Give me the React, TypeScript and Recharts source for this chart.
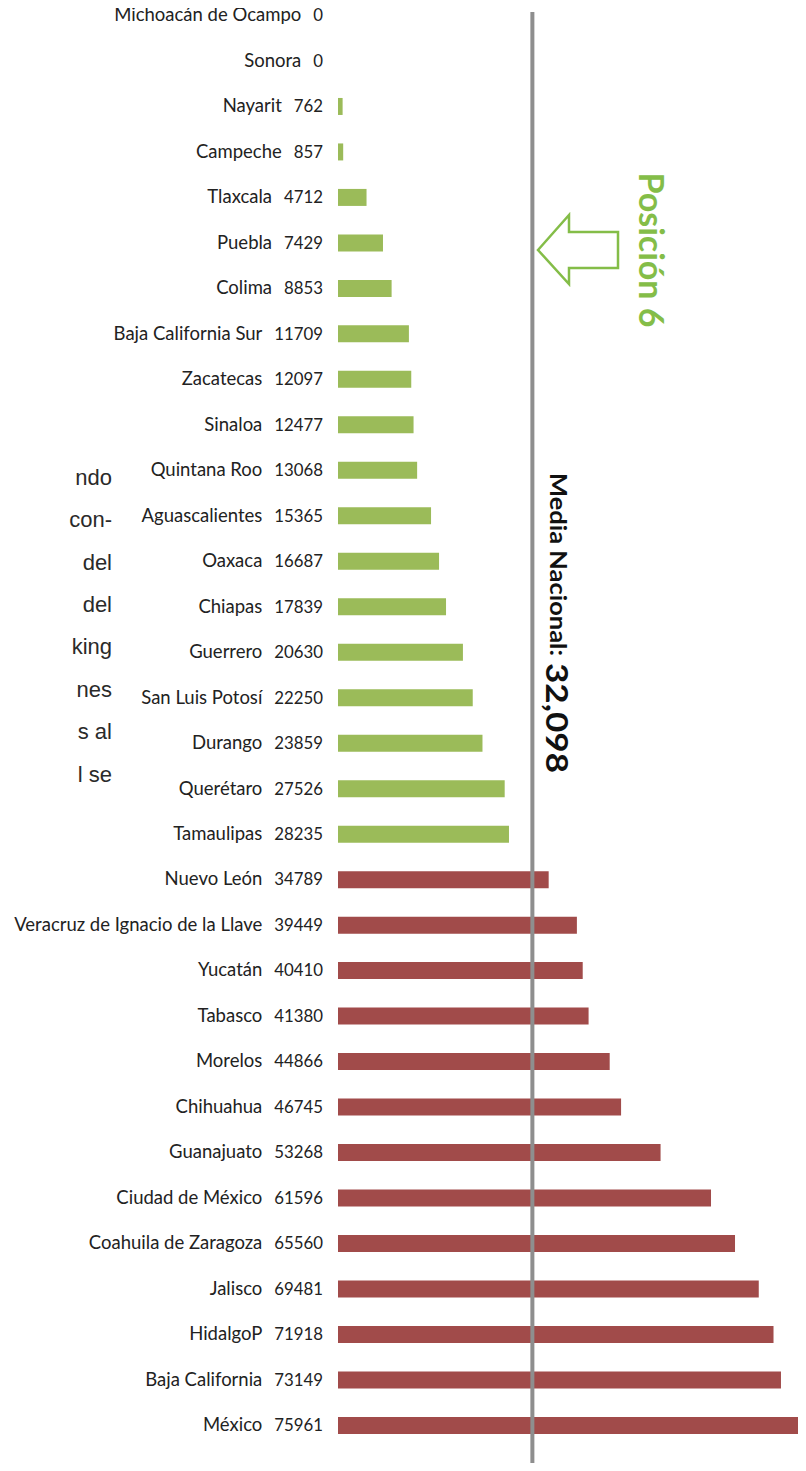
import React from "react";
import { BarChart, Bar, XAxis, YAxis, Cell, ReferenceLine } from "recharts";

const STATES = [
  "Michoacán de Ocampo", "Sonora", "Nayarit", "Campeche", "Tlaxcala", "Puebla", "Colima",
  "Baja California Sur", "Zacatecas", "Sinaloa", "Quintana Roo", "Aguascalientes", "Oaxaca",
  "Chiapas", "Guerrero", "San Luis Potosí", "Durango", "Querétaro", "Tamaulipas", "Nuevo León",
  "Veracruz de Ignacio de la Llave", "Yucatán", "Tabasco", "Morelos", "Chihuahua", "Guanajuato",
  "Ciudad de México", "Coahuila de Zaragoza", "Jalisco", "HidalgoP", "Baja California", "México",
];
const VALUES = [
  0, 0, 762, 857, 4712, 7429, 8853, 11709, 12097, 12477, 13068, 15365, 16687, 17839, 20630,
  22250, 23859, 27526, 28235, 34789, 39449, 40410, 41380, 44866, 46745, 53268, 61596, 65560,
  69481, 71918, 73149, 75961,
];
const NATIONAL_MEAN = 32098;
const MEAN_TITLE = "Media Nacional:";
const MEAN_VALUE = "32,098";
const POSITION_LABEL = "Posición 6";
const FRAGMENT_LINES = ["ndo", "con-", "del", "del", "king", "nes", "s al", "l se"];

const GREEN = "#9BBB59";
const RED = "#A14B4A";
const LIME = "#84BD48";

const data = STATES.map((name, i) => ({ name, value: VALUES[i] }));

const Tick = (props: any) => {
  const { x, y, payload } = props;
  const idx = payload.index;
  return (
    <text x={x} y={y} dy="0.35em" textAnchor="end" fontFamily="Lato" fill="#222">
      <tspan fontSize={18.5}>{payload.value}</tspan>
      <tspan dx={12} fontSize={16.8}>{VALUES[idx]}</tspan>
    </text>
  );
};

const MeanLine = (props: any) => {
  const { x1, y1, y2 } = props;
  const top = Math.min(y1, y2);
  const bottom = Math.max(y1, y2);
  return <line x1={x1} x2={x1} y1={top + 19} y2={bottom + 30} stroke="#8E8E8E" strokeWidth={4} />;
};

const MeanLabel = (props: any) => {
  const vb = props.viewBox || {};
  const cx = vb.x + 26;
  const y0 = 480;
  const y1 = 670;
  return (
    <g fontFamily="Lato" fontWeight={700} fill="#111">
      <text
        x={cx}
        y={y0}
        textAnchor="start"
        dominantBaseline="central"
        transform={`rotate(90, ${cx}, ${y0})`}
        fontSize={22}
        textLength={183}
        lengthAdjust="spacingAndGlyphs"
      >
        {MEAN_TITLE}
      </text>
      <text
        x={cx}
        y={y1}
        textAnchor="start"
        dominantBaseline="central"
        transform={`rotate(90, ${cx}, ${y1})`}
        fontSize={31}
        textLength={110}
        lengthAdjust="spacingAndGlyphs"
      >
        {MEAN_VALUE}
      </text>
    </g>
  );
};

export default function App() {
  return (
    <div style={{ position: "relative", width: 806, height: 1471, margin: -8, background: "#fff", overflow: "hidden" }}>
      <div style={{ position: "absolute", top: -7, left: 0 }}>
        <BarChart
          width={806}
          height={1478}
          data={data}
          layout="vertical"
          margin={{ top: 0, right: 8, bottom: 22.6, left: 0 }}
        >
          <XAxis type="number" domain={[0, "dataMax"]} hide />
          <YAxis
            type="category"
            dataKey="name"
            width={338}
            axisLine={false}
            tickLine={false}
            tickSize={0}
            tickMargin={15}
            interval={0}
            tick={<Tick />}
          />
          <Bar dataKey="value" barSize={17} isAnimationActive={false}>
            {data.map((d, i) => (
              <Cell key={i} fill={d.value < NATIONAL_MEAN ? GREEN : RED} />
            ))}
          </Bar>
          <ReferenceLine x={NATIONAL_MEAN} shape={<MeanLine />} label={<MeanLabel />} />
        </BarChart>
      </div>
      <svg width={806} height={1471} style={{ position: "absolute", top: 0, left: 0, pointerEvents: "none" }}>
        <polygon
          points="538,250 569,215 569,232 618,232 618,268 569,268 569,284"
          fill="none"
          stroke={LIME}
          strokeWidth={2.5}
          strokeLinejoin="miter"
        />
        <text
          x={652}
          y={250}
          textAnchor="middle"
          dominantBaseline="central"
          transform="rotate(90, 652, 250)"
          fontFamily="Lato"
          fontWeight={700}
          fontSize={34}
          fill={LIME}
        >
          {POSITION_LABEL}
        </text>
        {FRAGMENT_LINES.map((t, i) => (
          <text
            key={i}
            x={112}
            y={477 + i * 42.4}
            dy="0.35em"
            textAnchor="end"
            fontFamily="Liberation Sans"
            fontSize={22}
            fill="#2a2a2a"
          >
            {t}
          </text>
        ))}
      </svg>
    </div>
  );
}
